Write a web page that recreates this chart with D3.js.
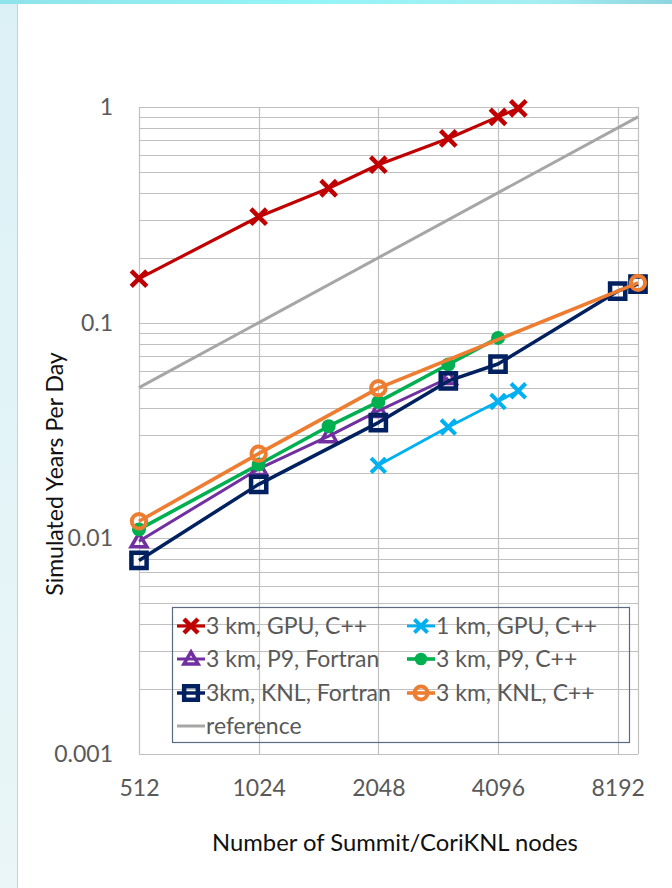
<!DOCTYPE html>
<html>
<head>
<meta charset="utf-8">
<script src="https://cdn.jsdelivr.net/npm/d3@7"></script>
<style>
  html, body { margin: 0; padding: 0; background: #fff; }
  svg { display: block; }
  text { font-family: Lato, "Open Sans", sans-serif; }
</style>
</head>
<body>
<svg id="chart" width="672" height="888"></svg>
<script>
// ---- data ----
const xTicks = [512, 1024, 2048, 4096, 8192];
const yTicks = [0.001, 0.01, 0.1, 1];
const yTickLabels = ["0.001", "0.01", "0.1", "1"];

const seriesNames = ["3 km, GPU, C++", "1 km, GPU, C++", "3 km, P9, Fortran", "3 km, P9, C++", "3km, KNL, Fortran", "3 km, KNL, C++", "reference"];

const nodesGpu3km = [512, 1024, 1536, 2048, 3072, 4096, 4608];
const valsGpu3km  = [0.16, 0.31, 0.42, 0.54, 0.715, 0.90, 0.985];

const nodesGpu1km = [2048, 3072, 4096, 4608];
const valsGpu1km  = [0.0218, 0.0328, 0.0431, 0.0483];

const nodesP9Fortran = [512, 1024, 1536, 2048, 3072];
const valsP9Fortran  = [0.0097, 0.021, 0.0298, 0.039, 0.0554];

const nodesP9Cpp = [512, 1024, 1536, 2048, 3072, 4096];
const valsP9Cpp  = [0.011, 0.022, 0.0331, 0.0429, 0.064, 0.085];

const nodesKnlFortran = [512, 1024, 2048, 3072, 4096, 8192, 9216];
const valsKnlFortran  = [0.0079, 0.0178, 0.0344, 0.0537, 0.0643, 0.14, 0.151];

const nodesKnlCpp = [512, 1024, 2048, 9216];
const valsKnlCpp  = [0.012, 0.0247, 0.0497, 0.153];

const nodesReference = [512, 9216];
const valsReference  = [0.05, 0.9];

const xTitle = "Number of Summit/CoriKNL nodes";
const yTitle = "Simulated Years Per Day";

// ---- layout ----
const svg = d3.select("#chart");
const W = 672, H = 888;

// page decoration (slide background)
const defs = svg.append("defs");
const gl = defs.append("linearGradient").attr("id", "leftStrip").attr("x1", 0).attr("y1", 0).attr("x2", 0).attr("y2", 1);
gl.append("stop").attr("offset", "0%").attr("stop-color", "#dcf1f6");
gl.append("stop").attr("offset", "100%").attr("stop-color", "#eaf6f8");
const gt = defs.append("linearGradient").attr("id", "topStrip").attr("x1", 0).attr("y1", 0).attr("x2", 1).attr("y2", 0);
gt.append("stop").attr("offset", "0%").attr("stop-color", "#8fe3ea");
gt.append("stop").attr("offset", "45%").attr("stop-color", "#93f5f8");
gt.append("stop").attr("offset", "80%").attr("stop-color", "#a6eef2");
gt.append("stop").attr("offset", "100%").attr("stop-color", "#8dd6e0");

svg.append("rect").attr("x", 0).attr("y", 0).attr("width", W).attr("height", H).attr("fill", "#fff");
svg.append("rect").attr("x", 0).attr("y", 0).attr("width", 17).attr("height", H).attr("fill", "url(#leftStrip)");
svg.append("line").attr("x1", 17.5).attr("x2", 17.5).attr("y1", 4).attr("y2", H).attr("stroke", "#cfcfcf").attr("stroke-width", 1);
svg.append("rect").attr("x", 0).attr("y", 0).attr("width", W).attr("height", 4).attr("fill", "url(#topStrip)");

const x = d3.scaleLog().base(2).domain([512, 9216]).range([139, 638]);
const y = d3.scaleLog().base(10).domain([0.001, 1]).range([754, 107]);

// gridlines
const grid = svg.append("g").attr("stroke", "#c0c0c0").attr("stroke-width", 1.2).attr("fill", "none");
const minorVals = [];
for (let e = -3; e < 0; e++) {
  for (let m = 1; m < 10; m++) minorVals.push(m * Math.pow(10, e));
}
minorVals.push(1);
grid.selectAll("line.h").data(minorVals).join("line").attr("class", "h")
  .attr("x1", x(512)).attr("x2", x(9216))
  .attr("y1", d => Math.round(y(d)) + 0.5).attr("y2", d => Math.round(y(d)) + 0.5);
grid.selectAll("line.v").data(xTicks.concat([9216])).join("line").attr("class", "v")
  .attr("x1", d => Math.round(x(d)) + 0.5).attr("x2", d => Math.round(x(d)) + 0.5)
  .attr("y1", y(1)).attr("y2", y(0.001));

// axes (labels only, Excel-style)
const xAxis = d3.axisBottom(x).tickValues(xTicks).tickFormat(d3.format("d")).tickSize(0).tickPadding(0);
const xg = svg.append("g").attr("transform", `translate(0,${y(0.001)})`).call(xAxis);
xg.select(".domain").remove();
xg.selectAll("text").attr("dy", 0).attr("y", 42).attr("font-size", 23).attr("fill", "#595959")
  .attr("font-family", "Lato, sans-serif");

const yAxis = d3.axisLeft(y).tickValues(yTicks).tickFormat((d, i) => yTickLabels[i]).tickSize(0).tickPadding(0);
const yg = svg.append("g").attr("transform", `translate(113,0)`).call(yAxis);
yg.select(".domain").remove();
yg.selectAll("text").attr("x", 0).attr("font-size", 23).attr("fill", "#595959")
  .attr("font-family", "Lato, sans-serif");

// titles
svg.append("text").attr("x", 395).attr("y", 851).attr("text-anchor", "middle")
  .attr("font-size", 23.8).attr("fill", "#111").text(xTitle);
svg.append("text").attr("transform", "translate(63,474) rotate(-90)").attr("text-anchor", "middle")
  .attr("font-size", 23).attr("fill", "#111").text(yTitle);

// markers
function markerPath(type, s) {
  const p = d3.path();
  if (type === "x") {
    p.moveTo(-s, -s); p.lineTo(s, s); p.moveTo(-s, s); p.lineTo(s, -s);
  } else if (type === "square") {
    p.rect(-s, -s, 2 * s, 2 * s);
  } else if (type === "triangle") {
    p.moveTo(0, -s * 1.05); p.lineTo(s * 1.05, s * 0.75); p.lineTo(-s * 1.05, s * 0.75); p.closePath();
  } else if (type === "circle" || type === "dot") {
    p.arc(0, 0, s, 0, 2 * Math.PI);
  }
  return p.toString();
}

const series = [
  { name: seriesNames[6], nodes: nodesReference, vals: valsReference, color: "#a6a6a6", lw: 3, marker: null },
  { name: seriesNames[0], nodes: nodesGpu3km, vals: valsGpu3km, color: "#c00000", lw: 3.2, marker: "x", ms: 7.8, mw: 4.5 },
  { name: seriesNames[1], nodes: nodesGpu1km, vals: valsGpu1km, color: "#00b0f0", lw: 2.8, marker: "x", ms: 7.3, mw: 4 },
  { name: seriesNames[2], nodes: nodesP9Fortran, vals: valsP9Fortran, color: "#7030a0", lw: 3, marker: "triangle", ms: 7.5, mw: 3.5 },
  { name: seriesNames[3], nodes: nodesP9Cpp, vals: valsP9Cpp, color: "#00b050", lw: 3.6, marker: "dot", ms: 7, mw: 0 },
  { name: seriesNames[4], nodes: nodesKnlFortran, vals: valsKnlFortran, color: "#002060", lw: 3.5, marker: "square", ms: 7.6, mw: 4.5 },
  { name: seriesNames[5], nodes: nodesKnlCpp, vals: valsKnlCpp, color: "#ed7d31", lw: 3.6, marker: "circle", ms: 7.2, mw: 4 }
];

const line = d3.line().x(d => x(d[0])).y(d => y(d[1]));
const plot = svg.append("g");
series.forEach(s => {
  const pts = s.nodes.map((n, i) => [n, s.vals[i]]);
  const g = plot.append("g");
  g.append("path").attr("d", line(pts)).attr("fill", "none").attr("stroke", s.color)
    .attr("stroke-width", s.lw).attr("stroke-linejoin", "round");
  if (s.marker) {
    g.selectAll("path.m").data(pts).join("path").attr("class", "m")
      .attr("transform", d => `translate(${x(d[0])},${y(d[1])})`)
      .attr("d", markerPath(s.marker, s.ms))
      .attr("fill", s.marker === "dot" ? s.color : "none")
      .attr("stroke", s.marker === "dot" ? "none" : s.color)
      .attr("stroke-width", s.mw);
  }
});

// legend
const leg = svg.append("g");
leg.append("rect").attr("x", 172.5).attr("y", 607.5).attr("width", 457).attr("height", 135)
  .attr("fill", "none").attr("stroke", "#5a6a80").attr("stroke-width", 1.2);
const legOrder = [1, 2, 3, 4, 5, 6, 0]; // indexes into series array
const colX = [177, 407];
const rowY = [626, 659, 693, 726];
legOrder.forEach((si, k) => {
  const s = series[si];
  const cx = colX[k % 2], cy = rowY[Math.floor(k / 2)];
  const g = leg.append("g").attr("transform", `translate(${cx},${cy})`);
  g.append("line").attr("x1", 0).attr("x2", 28).attr("y1", 0).attr("y2", 0)
    .attr("stroke", s.color).attr("stroke-width", s.lw);
  if (s.marker) {
    g.append("path").attr("transform", "translate(14,0)").attr("d", markerPath(s.marker, s.ms * 0.9))
      .attr("fill", s.marker === "dot" ? s.color : "none")
      .attr("stroke", s.marker === "dot" ? "none" : s.color)
      .attr("stroke-width", s.mw);
  }
  g.append("text").attr("x", 29).attr("y", 0).attr("dy", "0.35em")
    .attr("font-size", 23).attr("fill", "#595959").text(s.name);
});
</script>
</body>
</html>
